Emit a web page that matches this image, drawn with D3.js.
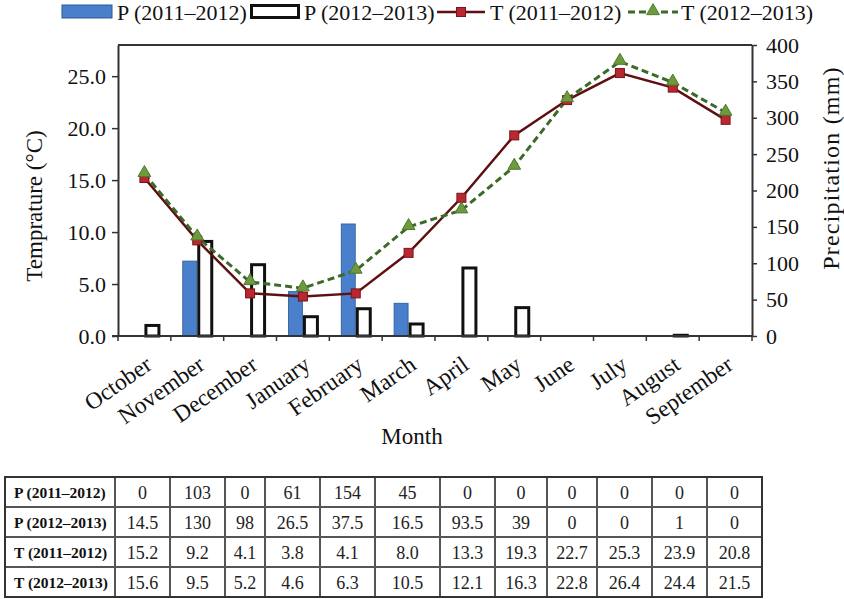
<!DOCTYPE html>
<html>
<head>
<meta charset="utf-8">
<script src="https://cdn.jsdelivr.net/npm/d3@7"></script>
<style>
  html, body { margin: 0; padding: 0; background: #fff; }
  svg { display: block; font-family: "Liberation Serif", "Times New Roman", serif; }
</style>
</head>
<body>
<svg id="chart" width="844" height="599"></svg>
<script>
// ---- data ----
const months = ["October","November","December","January","February","March","April","May","June","July","August","September"];
const p2011 = [0, 103, 0, 61, 154, 45, 0, 0, 0, 0, 0, 0];
const p2012 = [14.5, 130, 98, 26.5, 37.5, 16.5, 93.5, 39, 0, 0, 1, 0];
const t2011 = [15.2, 9.2, 4.1, 3.8, 4.1, 8.0, 13.3, 19.3, 22.7, 25.3, 23.9, 20.8];
const t2012 = [15.6, 9.5, 5.2, 4.6, 6.3, 10.5, 12.1, 16.3, 22.8, 26.4, 24.4, 21.5];
const tempTicks = [0, 5, 10, 15, 20, 25];
const precipTicks = [0, 50, 100, 150, 200, 250, 300, 350, 400];
const seriesNames = ["P (2011–2012)", "P (2012–2013)", "T (2011–2012)", "T (2012–2013)"];
const yLeftTitle = "Temprature (°C)";
const yRightTitle = "Precipitation (mm)";
const xTitle = "Month";

// ---- layout ----
const svg = d3.select("#chart");
const L = 118, R = 752, T = 45, B = 336;
const axisColor = "#333";
const blue = "#4a7fcc", blueEdge = "#2c5896";
const red = "#b8282e", redLine = "#5e0f12";
const green = "#6c9a3c", greenLine = "#3c6a28";

const x = d3.scaleBand().domain(months).range([L, R]).padding(0);
const xInner = d3.scaleBand().domain(["p2011", "p2012"]).range([-15, 15]).padding(0);
const yT = d3.scaleLinear().domain([0, 28]).range([B, T]);
const yP = d3.scaleLinear().domain([0, 400]).range([B, T]);
const cx = m => x(m) + x.bandwidth() / 2;

// frame top
svg.append("line").attr("x1", L).attr("x2", R).attr("y1", T).attr("y2", T)
  .attr("stroke", axisColor).attr("stroke-width", 2);

// bars
const barG = svg.append("g");
barG.selectAll("rect.b1").data(months).join("rect")
  .attr("x", m => cx(m) + xInner("p2011") + 0.5)
  .attr("width", xInner.bandwidth() - 1)
  .attr("y", (m, i) => yP(p2011[i]))
  .attr("height", (m, i) => B - yP(p2011[i]))
  .attr("fill", blue).attr("stroke", blueEdge).attr("stroke-width", 0.8);
barG.selectAll("rect.b2").data(months).join("rect")
  .attr("x", m => cx(m) + xInner("p2012") + 1.5)
  .attr("width", xInner.bandwidth() - 2)
  .attr("y", (m, i) => yP(p2012[i]))
  .attr("height", (m, i) => Math.max(0, B - yP(p2012[i])))
  .attr("fill", "#fff").attr("stroke", "#111").attr("stroke-width", 3);

// lines
const line = d3.line().x(d => cx(d[0])).y(d => yT(d[1]));
const d1 = months.map((m, i) => [m, t2011[i]]);
const d2 = months.map((m, i) => [m, t2012[i]]);
svg.append("path").attr("d", line(d1)).attr("fill", "none")
  .attr("stroke", redLine).attr("stroke-width", 2.5);
svg.append("path").attr("d", line(d2)).attr("fill", "none")
  .attr("stroke", greenLine).attr("stroke-width", 3).attr("stroke-dasharray", "7,4");
svg.selectAll("rect.sq").data(d1).join("rect")
  .attr("x", d => cx(d[0]) - 4.5).attr("y", d => yT(d[1]) - 4.5)
  .attr("width", 9).attr("height", 9)
  .attr("fill", red).attr("stroke", "#7a1418").attr("stroke-width", 1);
const tri = d3.symbol().type(d3.symbolTriangle).size(70);
svg.selectAll("path.tri").data(d2).join("path")
  .attr("d", tri)
  .attr("transform", d => `translate(${cx(d[0])},${yT(d[1]) - 1})`)
  .attr("fill", green).attr("stroke", "#4d7a2e").attr("stroke-width", 1);

// axes
const leftAxis = svg.append("g").attr("transform", `translate(${L},0)`)
  .call(d3.axisLeft(yT).tickValues(tempTicks).tickFormat(d3.format(".1f")).tickSize(6).tickSizeOuter(0));
const rightAxis = svg.append("g").attr("transform", `translate(${R},0)`)
  .call(d3.axisRight(yP).tickValues(precipTicks).tickFormat(d3.format("d")).tickSize(5).tickSizeOuter(0));
[leftAxis, rightAxis].forEach(g => {
  g.select(".domain").attr("stroke", axisColor).attr("stroke-width", 2);
  g.selectAll(".tick line").attr("stroke", axisColor).attr("stroke-width", 1.5);
  g.selectAll(".tick text").attr("font-family", "Liberation Serif").attr("font-size", 22).attr("fill", "#111");
});
leftAxis.selectAll(".tick text").attr("dx", -3);
rightAxis.selectAll(".tick text").attr("dx", 6);

// bottom axis
svg.append("line").attr("x1", L - 6).attr("x2", R).attr("y1", B).attr("y2", B)
  .attr("stroke", axisColor).attr("stroke-width", 2);
const bTicks = months.map(m => x(m)).concat([x.range()[1]]);
svg.selectAll("line.bt").data(bTicks).join("line")
  .attr("x1", d => d).attr("x2", d => d).attr("y1", B).attr("y2", B + 5)
  .attr("stroke", axisColor).attr("stroke-width", 1.5);
svg.selectAll("text.xl").data(months).join("text")
  .attr("text-anchor", "end")
  .attr("transform", m => `translate(${cx(m) + 9},${B + 32}) rotate(-35)`)
  .attr("font-size", 23.5).attr("fill", "#111")
  .text(m => m);

// axis titles
svg.append("text").attr("transform", `translate(42,206) rotate(-90)`)
  .attr("text-anchor", "middle").attr("font-size", 23).attr("fill", "#111").text(yLeftTitle);
svg.append("text").attr("transform", `translate(839,168) rotate(-90)`)
  .attr("text-anchor", "middle").attr("font-size", 24).attr("letter-spacing", 1.2)
  .attr("fill", "#111").text(yRightTitle);
svg.append("text").attr("x", 412).attr("y", 444).attr("text-anchor", "middle")
  .attr("font-size", 23).attr("fill", "#111").text(xTitle);

// legend
const lg = svg.append("g");
const legX = [62, 250, 437, 628];
lg.append("rect").attr("x", legX[0]).attr("y", 5).attr("width", 50).attr("height", 13)
  .attr("fill", blue).attr("stroke", blueEdge).attr("stroke-width", 1);
lg.append("rect").attr("x", legX[1] + 1.5).attr("y", 5.5).attr("width", 47).attr("height", 12)
  .attr("fill", "#fff").attr("stroke", "#111").attr("stroke-width", 3);
lg.append("line").attr("x1", legX[2]).attr("x2", legX[2] + 48).attr("y1", 12).attr("y2", 12)
  .attr("stroke", redLine).attr("stroke-width", 2.5);
lg.append("rect").attr("x", legX[2] + 19.5).attr("y", 7.5).attr("width", 9).attr("height", 9)
  .attr("fill", red).attr("stroke", "#7a1418");
lg.append("line").attr("x1", legX[3]).attr("x2", legX[3] + 50).attr("y1", 12).attr("y2", 12)
  .attr("stroke", greenLine).attr("stroke-width", 3).attr("stroke-dasharray", "7,4");
lg.append("path").attr("d", tri).attr("transform", `translate(${legX[3] + 25},11)`)
  .attr("fill", green).attr("stroke", "#4d7a2e");
const legTextX = [117, 304, 490, 681];
lg.selectAll("text").data(seriesNames).join("text")
  .attr("x", (d, i) => legTextX[i]).attr("y", 20)
  .attr("font-size", 22).attr("fill", "#111").text(d => d);

// table
const colEdges = [5, 115, 170, 225, 265, 320, 375, 440, 495, 547, 597, 652, 707, 762];
const rowEdges = [477, 507, 537, 567, 597];
const tableRows = [
  [seriesNames[0], p2011.map(v => String(v))],
  [seriesNames[1], p2012.map(v => String(v))],
  [seriesNames[2], t2011.map(v => v.toFixed(1))],
  [seriesNames[3], t2012.map(v => v.toFixed(1))]
];
const tg = svg.append("g");
tableRows.forEach((row, r) => {
  const yMid = (rowEdges[r] + rowEdges[r + 1]) / 2;
  tg.append("text").attr("x", 14).attr("y", yMid + 6)
    .attr("font-size", 15.5).attr("font-weight", "bold").attr("fill", "#111").text(row[0]);
  row[1].forEach((v, c) => {
    tg.append("text").attr("x", (colEdges[c + 1] + colEdges[c + 2]) / 2).attr("y", yMid + 6.5)
      .attr("text-anchor", "middle").attr("font-size", 18).attr("fill", "#222").text(v);
  });
});
rowEdges.slice(1, -1).forEach(y => {
  tg.append("line").attr("x1", colEdges[0]).attr("x2", colEdges[colEdges.length - 1])
    .attr("y1", y).attr("y2", y).attr("stroke", "#555").attr("stroke-width", 1.8);
});
colEdges.slice(1, -1).forEach(xv => {
  tg.append("line").attr("x1", xv).attr("x2", xv)
    .attr("y1", rowEdges[0]).attr("y2", rowEdges[rowEdges.length - 1])
    .attr("stroke", "#555").attr("stroke-width", 2);
});
tg.append("rect").attr("x", colEdges[0]).attr("y", rowEdges[0])
  .attr("width", colEdges[colEdges.length - 1] - colEdges[0])
  .attr("height", rowEdges[rowEdges.length - 1] - rowEdges[0])
  .attr("fill", "none").attr("stroke", "#333").attr("stroke-width", 2);
</script>
</body>
</html>
